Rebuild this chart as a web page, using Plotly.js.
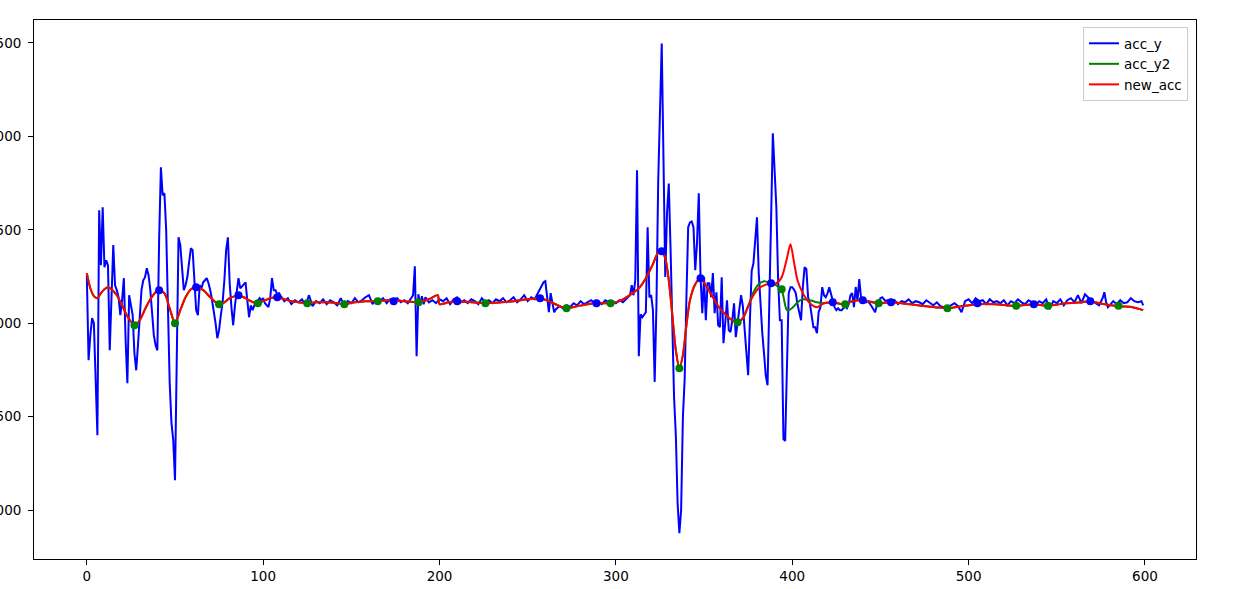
<!DOCTYPE html>
<html>
<head>
<meta charset="utf-8">
<script src="https://cdn.plot.ly/plotly-3.0.1.min.js"></script>
<style>html,body{margin:0;padding:0;background:#fff;}#chart{width:1256px;height:589px;}</style>
</head>
<body>
<div id="chart"></div>
<script>
// acc_y (raw signal), sample index and value
const accYIdx = [
0,1,2,3,4,5,6,7,8,9,10,11,12,13,14,15,16,17,18,19,20,21,22,23,24,25,26,27,28,29,30,31,32,33,34,35,36,37,38,39,40,41,42,43,44,45,46,47,48,49,50,51,52,53,54,55,56,57,58,59,60,61,62,63,64,65,66,67,68,69,70,71,72,73,74,75,76,77,78,79,80,81,82,83,84,85,86,87,88,89,90,91,92,93,94,95,96,97,98,99,100,101,102,103,104,105,106,107,108,109,
110,112,114,116,118,120,122,124,126,128,130,132,134,136,138,140,142,144,146,148,150,152,154,156,158,160,162,164,166,168,170,172,174,176,178,180,182,184,185,186,187,188,189,190,191,192,194,196,198,200,202,204,206,208,210,212,214,216,218,220,222,224,226,228,230,232,234,236,238,240,242,244,246,248,250,252,254,256,258,259,260,261,262,263,264,265,266,268,270,272,274,276,278,280,282,284,286,288,290,292,294,296,298,300,302,304,306,308,
309,310,311,312,313,314,315,316,317,318,319,320,321,322,323,324,325,326,327,328,329,330,331,332,333,334,335,336,337,338,339,340,341,342,343,344,345,346,347,348,349,350,351,352,353,354,355,356,357,358,359,360,361,362,363,364,365,366,367,368,369,370,371,372,373,374,375,376,377,378,379,380,381,382,383,384,385,386,387,388,389,390,391,392,393,394,395,396,397,398,399,400,401,402,403,404,405,406,407,408,409,410,411,412,413,414,415,416,417,418,419,420,421,422,423,424,425,426,427,428,429,430,431,432,433,434,435,436,437,438,439,440,441,442,443,444,445,446,447,448,449,450,451,452,453,454,455,
456,458,460,462,464,466,468,470,472,474,476,478,480,482,484,486,488,490,492,494,496,498,500,502,504,506,508,510,512,514,516,518,520,522,524,526,528,530,532,534,536,538,540,542,544,546,548,550,552,554,556,558,560,562,564,566,568,570,572,574,576,577,578,579,580,582,584,586,588,590,592,594,596,598,599
];
const accY = [
2257,1802,1936,2027,2000,1668,1400,2605,2310,2621,2300,2337,2310,1855,2177,2418,2203,2177,2139,2043,2123,2241,1909,1679,2150,2096,2043,1839,1748,1882,2027,2177,2230,2246,2294,2257,2177,2070,1936,1882,1855,2444,2835,2685,2696,2498,2016,1679,1465,1374,1160,1855,2460,2418,2284,2177,2203,2246,2327,2401,2391,2230,2070,2043,2203,2187,2219,2230,2241,2214,2177,2123,2070,2000,1920,1963,2043,2112,2230,2391,2460,2214,2086,1989,2096,2177,2241,2187,2198,2214,2219,2123,2032,2096,2070,2096,2107,2123,2134,2123,2134,2107,2096,2086,2134,2241,2177,2177,2155,2161,
2145,2118,2134,2102,2123,2112,2128,2096,2150,2091,2118,2107,2128,2102,2123,2112,2096,2134,2091,2118,2107,2134,2112,2123,2139,2150,2102,2128,2118,2134,2107,2128,2118,2134,2112,2123,2107,2139,2150,2305,1823,2155,2096,2145,2102,2139,2112,2123,2107,2128,2118,2134,2102,2128,2139,2112,2123,2107,2128,2118,2102,2134,2112,2123,2107,2128,2118,2134,2112,2123,2139,2112,2128,2150,2118,2139,2128,2166,2203,2219,2225,2150,2059,2161,2112,2059,2075,2091,2080,2096,2086,2107,2096,2118,2102,2112,2123,2107,2118,2102,2123,2112,2118,2107,2123,2112,2134,2150,
2203,2150,2230,2819,1823,2048,2032,2043,2059,2514,2139,2150,2070,1686,2096,2760,3211,3497,2873,2248,2589,2748,2400,1963,1600,1400,1036,876,1000,1500,1700,2139,2514,2540,2545,2514,2284,2428,2696,2246,2054,2248,2016,2214,2214,2139,2268,2054,2166,1990,1979,2246,1893,2000,2123,1963,1952,2016,2107,1925,2000,2070,2150,2091,1979,1872,1722,2016,2280,2321,2470,2567,2268,2070,1950,1839,1720,1668,2193,2551,3017,2776,2621,2230,2016,2016,1380,1370,1840,2160,2193,2193,2180,2161,2100,2054,2016,2193,2300,2290,2139,2107,2030,1979,1979,1947,2060,2086,2193,2150,2139,2160,2193,2150,2120,2086,2070,2080,2070,2070,2080,2091,2080,2100,2150,2161,2086,2194,2120,2236,2139,2118,2123,2112,2118,2107,2091,2075,2059,2096,2112,2134,2139,2128,2118,2123,2107,
2107,2123,2102,2118,2112,2128,2107,2118,2112,2102,2123,2107,2096,2112,2091,2086,2080,2096,2107,2091,2059,2118,2128,2107,2134,2118,2123,2102,2128,2112,2118,2107,2123,2096,2118,2107,2128,2112,2102,2123,2112,2096,2118,2107,2128,2075,2118,2107,2128,2096,2123,2134,2112,2150,2107,2155,2134,2118,2107,2096,2134,2166,2112,2086,2096,2118,2102,2123,2107,2112,2134,2118,2112,2118,2096
];

// smoothed series (new_acc) and acc_y2 on a shared index grid
const smoothIdx = [0,2,4,6,8,10,12,14,17,20,23,27,30,33,36,39,41,44,47,50,53,56,59,62,66,70,73,75,78,81,84,86,89,92,96,100,104,108,112,116,120,125,130,136,142,146,152,158,164,170,174,180,188,194,199,200,205,210,218,226,235,242,250,257,262,267,272,278,284,289,293,297,302,307,313,317,321,324,326,328,330,332,334,336,338,340,342,345,348,351,355,358,362,366,369,372,375,378,381,384,388,391,394,397,399,401,403,406,410,414,418,423,429,434,440,449,456,462,471,481,488,496,505,515,527,537,545,555,564,569,574,585,593,599];
const newAcc = [2268,2187,2145,2134,2161,2182,2193,2182,2150,2096,2037,1989,2016,2075,2128,2166,2177,2161,2080,2000,2070,2139,2182,2193,2177,2139,2112,2102,2112,2134,2145,2150,2139,2123,2107,2118,2134,2139,2128,2118,2112,2107,2112,2112,2107,2102,2112,2118,2118,2123,2123,2118,2112,2128,2150,2102,2112,2118,2112,2107,2112,2118,2128,2134,2118,2096,2080,2091,2102,2107,2107,2107,2118,2145,2187,2241,2316,2380,2385,2348,2230,2043,1855,1759,1829,1989,2123,2209,2241,2203,2139,2091,2048,2016,2005,2027,2091,2150,2187,2203,2214,2214,2246,2348,2423,2327,2230,2161,2107,2086,2107,2112,2102,2118,2123,2107,2112,2107,2096,2086,2080,2091,2102,2102,2093,2102,2093,2107,2112,2118,2107,2091,2086,2070];
const accY2 = [2268,2187,2145,2134,2161,2182,2193,2182,2150,2096,2037,1989,2016,2075,2128,2166,2177,2161,2080,2000,2070,2139,2182,2193,2177,2139,2112,2102,2112,2134,2145,2150,2139,2123,2107,2118,2134,2139,2128,2118,2112,2107,2112,2112,2107,2102,2112,2118,2118,2123,2123,2118,2112,2128,2150,2102,2112,2118,2112,2107,2112,2118,2128,2134,2118,2096,2080,2091,2102,2107,2107,2107,2118,2145,2187,2241,2316,2380,2385,2348,2230,2043,1855,1759,1829,1989,2123,2209,2241,2203,2139,2091,2048,2016,2005,2027,2091,2166,2209,2225,2214,2203,2177,2070,2075,2091,2112,2128,2123,2112,2107,2112,2102,2118,2123,2107,2112,2107,2096,2086,2080,2091,2102,2102,2093,2102,2093,2107,2112,2118,2107,2091,2086,2070];

// detected peaks (blue dots) and valleys (green dots)
const peakIdx = [41,62,86,108,174,210,257,289,326,348,388,423,440,456,505,537,569];
const peakVal = [2177,2193,2150,2139,2118,2118,2134,2107,2385,2241,2214,2112,2123,2112,2107,2102,2118];
const valleyIdx = [27,50,75,97,125,146,165,188,226,272,297,336,369,394,430,449,488,527,545,585];
const valleyVal = [1989,2000,2102,2107,2107,2102,2118,2112,2107,2080,2107,1759,2005,2182,2102,2107,2080,2093,2093,2093];

const xTicks = [0,100,200,300,400,500,600];
const yTicks = [1000,1500,2000,2500,3000,3500];

const traces = [
  {x: accYIdx, y: accY, type: 'scatter', mode: 'lines', name: 'acc_y',
   line: {color: '#0000ff', width: 2}},
  {x: smoothIdx, y: accY2, type: 'scatter', mode: 'lines', name: 'acc_y2',
   line: {color: '#008000', width: 2, shape: 'spline', smoothing: 0.8}},
  {x: smoothIdx, y: newAcc, type: 'scatter', mode: 'lines', name: 'new_acc',
   line: {color: '#ff0000', width: 2, shape: 'spline', smoothing: 0.8}},
  {x: peakIdx, y: peakVal, type: 'scatter', mode: 'markers', showlegend: false,
   marker: {color: '#0000ff', size: 8}},
  {x: valleyIdx, y: valleyVal, type: 'scatter', mode: 'markers', showlegend: false,
   marker: {color: '#008000', size: 8}}
];

const axisCommon = {
  showline: true, mirror: true, linecolor: '#000', linewidth: 1,
  ticks: 'outside', ticklen: 5, tickwidth: 1, tickcolor: '#000',
  showgrid: false, zeroline: false,
  tickfont: {family: 'DejaVu Sans', size: 13.5, color: '#000'}
};

const layout = {
  width: 1256, height: 589,
  margin: {l: 34, r: 60, t: 20, b: 30, pad: 0},
  paper_bgcolor: '#fff', plot_bgcolor: '#fff',
  font: {family: 'DejaVu Sans', color: '#000'},
  xaxis: Object.assign({}, axisCommon, {range: [-29.95, 628.95], tickvals: xTicks, ticktext: xTicks.map(String)}),
  yaxis: Object.assign({}, axisCommon, {range: [738, 3623], tickvals: yTicks, ticktext: yTicks.map(String), ticklabelstandoff: 4}),
  legend: {x: 0.9931, y: 0.987, xanchor: 'right', yanchor: 'top',
    bgcolor: 'rgba(255,255,255,0.8)', bordercolor: '#cccccc', borderwidth: 1,
    font: {family: 'DejaVu Sans', size: 13.5, color: '#000'}, itemwidth: 30},
  showlegend: true
};

Plotly.newPlot('chart', traces, layout, {displayModeBar: false, staticPlot: true});
</script>
</body>
</html>
